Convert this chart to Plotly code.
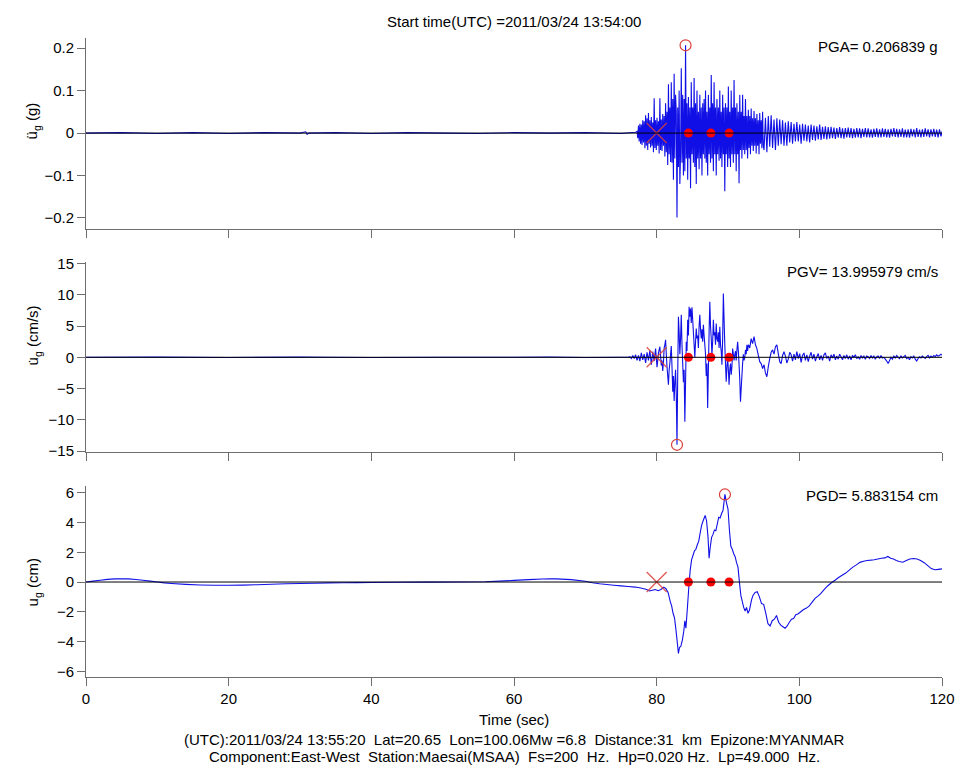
import plotly.graph_objects as go

# ---------------- data ----------------
TIME_TICKS = [0, 20, 40, 60, 80, 100, 120]

# acceleration (g)
ACC_QUIET_T = [0, 5, 10, 15, 20, 25, 30, 30.8, 31.0, 31.2, 35, 40, 45, 50, 55, 60, 65, 70, 75, 77.05]
ACC_QUIET = [0, 0.001, -0.001, 0.001, -0.001, 0.001, 0, 0.003, -0.003, 0.0, 0.001, -0.001,
             0.001, 0, -0.001, 0.001, 0, 0.001, -0.001, 0.002]
# strong part, sampled every 0.1 s from 77.25 s
ACC_T0 = 77.25
ACC_DT = 0.1
ACC_STRONG = [
    0.004, -0.012, 0.018, -0.02, 0.022, -0.025, 0.02, -0.028, 0.03, -0.022,
    0.028, -0.036, 0.042, -0.03, 0.035, -0.04, 0.047, -0.025, 0.03, -0.034,
    0.038, -0.03, 0.025, -0.045, 0.082, -0.035, 0.03, -0.04, 0.036, -0.03,
    0.028, -0.048, 0.082, -0.04, 0.032, -0.042, 0.045, -0.03, 0.04, -0.055,
    0.07, -0.045, 0.05, -0.075, 0.115, -0.05, 0.06, -0.068, 0.12, -0.07,
    0.08, -0.11, 0.14, -0.06, 0.09, 0.05, -0.199, 0.06, -0.08, 0.1,
    -0.12, -0.05, 0.153, -0.07, 0.09, -0.1, 0.08, -0.09, 0.206839, -0.06,
    0.07, -0.11, 0.085, -0.06, 0.06, -0.13, 0.12, -0.05, 0.06, -0.07,
    0.13, -0.08, 0.07, -0.12, 0.1, -0.06, 0.05, -0.085, 0.09, -0.06,
    0.06, -0.1, 0.07, -0.05, 0.08, -0.06, 0.1, -0.07, 0.05, -0.1,
    0.09, -0.05, 0.06, -0.07, 0.137, -0.06, 0.07, -0.09, 0.12, -0.05,
    0.06, -0.1, 0.08, -0.05, 0.06, -0.065, 0.1, -0.06, 0.05, -0.08,
    0.09, -0.05, 0.06, -0.137, 0.07, -0.05, 0.06, -0.08, 0.11, -0.06,
    0.05, -0.08, 0.1, -0.05, 0.06, -0.07, 0.125, -0.05, 0.06, -0.09,
    0.07, -0.05, 0.05, -0.118, 0.09, -0.04, 0.05, -0.06, 0.09, -0.04,
    0.04, -0.05, 0.08, -0.04, 0.04, -0.06, 0.055, -0.035, 0.04, -0.05,
    0.058, -0.03, 0.035, -0.042, 0.052, -0.03, 0.035, -0.048, 0.045, -0.03,
    0.03, -0.05, 0.047, -0.025, 0.03, -0.036, 0.05, -0.03,
]
# coda, sampled every 0.2 s from 95.05 s
CODA_T0 = 95.05
CODA_DT = 0.2
ACC_CODA = [
    -0.04, 0.036, -0.045, 0.04, -0.032, 0.042, -0.035, 0.032, -0.04, 0.035,
    -0.03, 0.032, -0.026, 0.03, -0.03, 0.025, -0.03, 0.028, -0.022, 0.026,
    -0.025, 0.022, -0.02, 0.026, -0.02, 0.02, -0.025, 0.022, -0.018, 0.02,
    -0.02, 0.018, -0.022, 0.02, -0.016, 0.018, -0.018, 0.016, -0.015, 0.02,
    -0.016, 0.015, -0.014, 0.016, -0.015, 0.014,
    -0.013, 0.015, -0.012, 0.013, -0.014, 0.012, -0.011, 0.014, -0.012, 0.011,
    -0.013, 0.012, -0.01, 0.013, -0.011, 0.012, -0.012, 0.01, -0.011, 0.012,
    -0.01, 0.011, -0.012, 0.01, -0.009, 0.012, -0.01, 0.011, -0.01, 0.009,
    -0.011, 0.01, -0.009, 0.011, -0.01, 0.009, -0.01, 0.011, -0.009, 0.01,
    -0.01, 0.009, -0.011, 0.01, -0.008, 0.012, -0.009, 0.01, -0.01, 0.009,
    -0.009, 0.011, -0.01, 0.008, -0.01, 0.009, -0.011, 0.01, -0.008, 0.009,
    -0.01, 0.012, -0.009, 0.008, -0.01, 0.009, -0.009, 0.011, -0.008, 0.009,
    -0.01, 0.009, -0.008, 0.01, -0.009, 0.008, -0.01, 0.009, -0.008, 0.005,
]

# velocity (cm/s)
VEL_QUIET_T = [0, 10, 20, 30, 34, 40, 50, 60, 65, 70, 75, 75.85]
VEL_QUIET = [0, 0.03, -0.02, 0.03, 0.02, -0.02, 0.0, 0.02, 0.05, -0.03, 0.02, 0.0]
# onset, every 0.2 s from 76.05 s
VEL_ONSET_T0 = 76.05
VEL_ONSET_DT = 0.2
VEL_ONSET = [0.0, 0.1, -0.2, 0.3, -0.2, 0.4, -0.5, 0.3, -0.6, 0.7,
             -0.4, 0.5, -0.9, 0.8, -0.5, 1.1, -1.2, 0.9, -0.6, 1.4]
# strong part, every 0.1 s from 80.05 s
VEL_STRONG_T0 = 80.05
VEL_STRONG_DT = 0.1
VEL_STRONG = [
    -1.6, -0.5, 0.7, 1.2, 1.7, 0.2, -1.3, -0.5, -2.2, -0.8,
    1.5, 2.0, 2.8, 0.5, -1.5, -3.0, -4.4, -2.0, -1.0, 0.5,
    1.8, -1.5, -5.5, -3.0, -7.0, -4.0, -2.0, -6.0, -13.995979, -3.0,
    6.5, 4.0, 0.5, 3.0, 6.8, 2.0, -1.0, -4.0, -2.0, -10.3,
    -4.0, 2.5, 1.0, 6.0, 3.5, 8.1, 6.5, 7.8, 5.5, 8.0,
    6.0, 4.0, 2.0, 0.0, 2.5, 4.6, 3.0, 3.5, 1.5, 5.0,
    6.8, 4.5, 3.0, 4.5, 2.5, 5.2, 3.5, 2.0, 0.5, -3.0,
    -1.0, -8.1, -2.0, 4.0, 8.9, 5.0, 3.0, 0.4, 2.5, 6.0,
    3.5, 4.0, 2.0, 5.4, 3.0, 2.5, 4.0, 1.5, 4.9, 2.0,
    1.0, -1.2, 3.0, 10.2, 6.0, 2.0, -1.0, -3.9, -1.5, 0.0,
    -2.0, -4.4, -2.0, -1.0, -2.8, -1.5, 1.4, 0.5, -0.5, 0.4,
    1.0, -0.5, 1.2, 2.5, 1.0, -1.2, -3.5, -7.1, -5.0, -3.0,
    -1.0, 0.5, -0.5, 0.0, 1.2, 0.5, 2.0, 1.0, 2.0, 1.8,
]
# coda, every 0.2 s from 93.05 s
VEL_CODA_T0 = 93.05
VEL_CODA_DT = 0.2
VEL_CODA = [
    1.5, 3.0, 2.2, 3.3, 2.0,
    1.4, 0.3, -0.7, -1.0, -1.8, -1.2, -2.5, -3.1, -1.5, -0.2,
    0.8, 1.2, 0.5, 1.7, 2.0, 0.6, -0.7, -1.0, 0.3, 0.9,
    0.2, -0.9, -0.3, 0.8, 0.4, -0.6, 0.5, -0.4, 0.9, -0.2,
    0.6, -0.8, 0.3, 0.7, -0.5, 0.4, -0.7, 0.2, 0.8, -0.3,
    0.5, -0.6, 0.1, 0.6, -0.4, 0.3, -0.5, 0.4, 0.7, -0.2,
    0.2, -0.6, 0.4, -0.1, 0.5, -0.4, 0.2, -0.3, 0.5, 0.1,
    -0.4, 0.3, -0.2, 0.4, -0.3, 0.2, -0.4, 0.3, 0.0, 0.4,
    -0.2, 0.1, -0.3, 0.3, -0.1, 0.2, -0.3, 0.2, 0.1, -0.2,
    0.3, -0.1, 0.2, -0.3, 0.1, 0.2, -0.2, 0.3, -0.1, 0.0,
    -0.3, -0.6, -1.0, -0.5, 0.0, -0.3, 0.2, -0.1, 0.3, 0.0,
    -0.2, 0.2, -0.1, 0.1, 0.3, -0.2, 0.0, -0.4, 0.1, -0.1,
    0.2, -0.3, -0.6, -0.2, 0.1, -0.1, 0.2, 0.0, -0.2, 0.1,
    0.3, -0.1, 0.2, 0.0, 0.3, 0.1, 0.4, 0.2, 0.3, 0.5, 0.3,
]

# displacement (cm)
DIS_T = [0, 1, 2, 3, 4, 5, 6, 7, 8, 9, 10, 11, 12, 14, 16, 18, 20, 22, 24, 26, 28, 30,
         32, 34, 36, 38, 40, 44, 48, 52, 56, 58, 60, 62, 64, 65, 66, 68, 70, 71, 72, 73,
         74, 75, 76, 77, 77.6, 78.2, 78.6, 79.0, 79.4, 79.8, 80.2, 80.6, 81.0, 81.3, 81.6,
         81.9, 82.1, 82.3, 82.5, 82.7, 82.9, 83.05, 83.2, 83.4, 83.6, 83.8, 83.95, 84.1,
         84.3, 84.5, 84.7, 84.9, 85.1, 85.3, 85.5, 85.7, 85.9, 86.1, 86.3, 86.5, 86.8,
         87.0, 87.2, 87.35, 87.5, 87.7, 87.9, 88.1, 88.3, 88.5, 88.7, 88.9, 89.1, 89.3,
         89.57, 89.8, 90.0, 90.2, 90.4, 90.6, 90.8, 91.0, 91.2, 91.4, 91.6, 91.8, 92.0,
         92.2, 92.4, 92.6, 92.8, 93.0, 93.3, 93.5, 93.8, 94.1, 94.4, 94.7, 95.0, 95.3,
         95.6, 95.9, 96.2, 96.5, 96.8, 97.1, 97.4, 97.7, 98.0, 98.3, 98.6, 98.9, 99.2,
         99.5, 99.8, 100.2, 100.6, 101.0, 101.4, 101.8, 102.2, 102.6, 103.0, 103.5, 104.0,
         104.5, 105.0, 105.5, 106.0, 106.5, 107.0, 107.5, 108.0, 108.5, 109.0, 109.5,
         110.0, 110.5, 111.0, 111.5, 112.0, 112.4, 112.8, 113.2, 113.6, 114.0, 114.5,
         115.0, 115.5, 116.0, 116.5, 117.0, 117.5, 118.0, 118.5, 119.0, 119.5, 120.0]
DIS = [0, 0.06, 0.12, 0.18, 0.21, 0.22, 0.21, 0.17, 0.12, 0.06, 0.0, -0.06, -0.1, -0.16,
       -0.2, -0.22, -0.22, -0.21, -0.18, -0.15, -0.12, -0.1, -0.08, -0.06, -0.05, -0.04,
       -0.03, -0.02, -0.01, 0.0, 0.02, 0.06, 0.11, 0.16, 0.2, 0.22, 0.21, 0.16, 0.05,
       -0.05, -0.12, -0.17, -0.22, -0.26, -0.3, -0.34, -0.38, -0.45, -0.5, -0.6, -0.55,
       -0.5, -0.58, -0.5, -0.34, -0.45, -0.7, -1.3, -1.6, -2.1, -2.4, -3.2, -4.1, -4.8,
       -4.4, -4.3, -3.9, -3.3, -2.6, -3.1, -1.8, -0.4, 0.8, 1.5, 1.8, 2.1, 2.2, 2.5, 2.75,
       3.3, 3.8, 4.1, 4.47, 4.1, 3.0, 1.6, 2.3, 3.0, 3.2, 3.5, 3.45, 3.9, 4.35, 4.3, 4.6,
       4.8, 5.883154, 5.3, 4.9, 3.5, 2.4, 2.2, 1.9, 1.7, 1.3, 1.0, 0.0, -0.9, -1.3, -1.7,
       -1.95, -1.7, -2.1, -1.9, -1.2, -0.9, -0.7, -0.65, -1.0, -1.45, -1.5, -2.1, -2.8,
       -2.95, -2.6, -2.5, -2.25, -2.7, -2.9, -3.0, -3.1, -2.95, -2.7, -2.5, -2.45, -2.2,
       -2.15, -2.0, -1.85, -1.75, -1.6, -1.35, -1.1, -0.95, -0.78, -0.5, -0.25, -0.05,
       0.12, 0.3, 0.45, 0.6, 0.8, 1.0, 1.15, 1.32, 1.4, 1.45, 1.47, 1.5, 1.55, 1.6, 1.62,
       1.72, 1.6, 1.55, 1.45, 1.38, 1.33, 1.45, 1.55, 1.58, 1.55, 1.45, 1.3, 1.1, 0.9,
       0.82, 0.85, 0.88]

# event picks (sec) and peaks
PICK_X_T = [80.0]
PICK_DOTS_T = [84.45, 87.6, 90.15]
PEAK_T = [84.05, 82.85, 89.57]
PEAK_V = [0.206839, -13.995979, 5.883154]
PEAK_TEXT = ["PGA= 0.206839 g", "PGV= 13.995979 cm/s", "PGD= 5.883154 cm"]
Y_LABELS = ["\u00fc<sub>g</sub> (g)", "u\u0307<sub>g</sub> (cm/s)", "u<sub>g</sub> (cm)"]
Y_TICKS = [[-0.2, -0.1, 0, 0.1, 0.2], [-15, -10, -5, 0, 5, 10, 15], [-6, -4, -2, 0, 2, 4, 6]]
Y_RANGES = [[-0.226, 0.224], [-15.15, 15.25], [-6.38, 6.45]]

TITLE = "Start time(UTC) =2011/03/24 13:54:00"
XLABEL = "Time (sec)"
INFO1 = "(UTC):2011/03/24 13:55:20  Lat=20.65  Lon=100.06Mw =6.8  Distance:31  km  Epizone:MYANMAR"
INFO2 = "Component:East-West  Station:Maesai(MSAA)  Fs=200  Hz.  Hp=0.020 Hz.  Lp=49.000  Hz."

# ---------------- build ----------------
def grid(t0, dt, n):
    return [round(t0 + dt * i, 4) for i in range(n)]

acc_t = ACC_QUIET_T + grid(ACC_T0, ACC_DT, len(ACC_STRONG)) + grid(CODA_T0, CODA_DT, len(ACC_CODA))
acc_v = ACC_QUIET + ACC_STRONG + ACC_CODA
vel_t = (VEL_QUIET_T + grid(VEL_ONSET_T0, VEL_ONSET_DT, len(VEL_ONSET))
         + grid(VEL_STRONG_T0, VEL_STRONG_DT, len(VEL_STRONG))
         + grid(VEL_CODA_T0, VEL_CODA_DT, len(VEL_CODA)))
vel_v = VEL_QUIET + VEL_ONSET + VEL_STRONG + VEL_CODA

series = [(acc_t, acc_v), (vel_t, vel_v), (DIS_T, DIS)]

FONT = "Liberation Sans, Arial, sans-serif"
BLUE = "#1010e6"
RED = "#ff0000"
DARKRED = "#d9403a"
AXC = "#6e6e6e"

# the page body adds an 8 px margin; the figure is sized so it fills the window
W, H = 959, 757
ML, MR, MT, MB = 78, 18, 30, 88
panel_px = [(38, 229), (262, 452), (486, 677)]   # window pixel rows of each panel


def py(p):
    return (677 - p) / 639


def px(p):
    return (p - 86) / 863


fig = go.Figure()
for i, (tt, vv) in enumerate(series):
    n = "" if i == 0 else str(i + 1)
    xa, ya = "x" + n, "y" + n
    fig.add_trace(go.Scatter(x=tt, y=vv, mode="lines", xaxis=xa, yaxis=ya,
                             line=dict(color=BLUE, width=1.1, simplify=False),
                             hoverinfo="skip", showlegend=False))
    fig.add_shape(type="line", xref=xa + " domain", yref=ya, x0=0, x1=1, y0=0, y1=0,
                  line=dict(color="black", width=1), layer="above")
    fig.add_trace(go.Scatter(x=PICK_X_T, y=[0] * len(PICK_X_T), mode="markers",
                             xaxis=xa, yaxis=ya, showlegend=False, opacity=0.85,
                             marker=dict(symbol="x-thin-open", size=20, color=DARKRED,
                                         line=dict(color=DARKRED, width=1.3))))
    fig.add_trace(go.Scatter(x=PICK_DOTS_T, y=[0] * len(PICK_DOTS_T), mode="markers",
                             xaxis=xa, yaxis=ya, showlegend=False,
                             marker=dict(symbol="circle", size=9, color=RED)))
    fig.add_trace(go.Scatter(x=[PEAK_T[i]], y=[PEAK_V[i]], mode="markers",
                             xaxis=xa, yaxis=ya, showlegend=False,
                             marker=dict(symbol="circle-open", size=11, color=DARKRED,
                                         line=dict(color=DARKRED, width=1.2))))

    top, bot = panel_px[i]
    fig.layout["xaxis" + n] = dict(
        domain=[0, 1], anchor=ya, range=[0, 120], tickvals=TIME_TICKS,
        showticklabels=(i == 2), ticks="outside", ticklen=8, tickcolor=AXC,
        showline=True, linecolor=AXC, linewidth=1, showgrid=False, zeroline=False,
        tickfont=dict(family=FONT, size=15, color="black"))
    fig.layout["yaxis" + n] = dict(
        domain=[py(bot), py(top)], anchor=xa, range=Y_RANGES[i], tickvals=Y_TICKS[i],
        ticks="outside", ticklen=8, tickcolor=AXC, showline=True, linecolor=AXC,
        linewidth=1, showgrid=False, zeroline=False,
        tickfont=dict(family=FONT, size=15, color="black"))

ann = []
peak_text_y = [47, 271, 495]
label_y = [121, 335, 582]
for i in range(3):
    ann.append(dict(text=PEAK_TEXT[i], xref="paper", yref="paper",
                    x=px(947), y=py(peak_text_y[i]),
                    xanchor="right", yanchor="middle", showarrow=False,
                    font=dict(family=FONT, size=15, color="black")))
    ann.append(dict(text=Y_LABELS[i], xref="paper", yref="paper",
                    x=px(33), y=py(label_y[i]), textangle=-90,
                    xanchor="center", yanchor="middle", showarrow=False,
                    font=dict(family=FONT, size=15, color="black")))
for txt, yy in [(TITLE, 21), (XLABEL, 719), (INFO1, 739), (INFO2, 756)]:
    ann.append(dict(text=txt, xref="paper", yref="paper", x=0.5, y=py(yy),
                    xanchor="center", yanchor="middle", showarrow=False,
                    font=dict(family=FONT, size=15, color="black")))

fig.update_layout(width=W, height=H, margin=dict(l=ML, r=MR, t=MT, b=MB),
                  paper_bgcolor="white", plot_bgcolor="white", annotations=ann,
                  showlegend=False)

fig.write_html("out.html")
